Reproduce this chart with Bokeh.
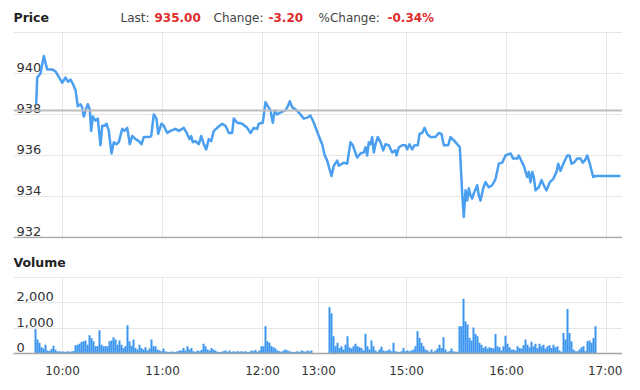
from bokeh.plotting import figure
from bokeh.layouts import column
from bokeh.models import Range1d, FixedTicker, Span
from bokeh.core.properties import value
from bokeh.embed import file_html
from bokeh.resources import INLINE

FONT = "DejaVu Sans"

# ---------------- data ----------------
# x axis: trading slots (one volume bar per slot), with the lunch break compressed
tick_slots = [13.5, 63.5, 113.5, 141.5, 185.5, 235.5, 285.5]
tick_labels = ["10:00", "11:00", "12:00", "13:00", "15:00", "16:00", "17:00"]
x_start, x_end = -11, 293.5

price_ticks = [932, 934, 936, 938, 940]
price_tick_labels = ["932", "934", "936", "938", "940"]
price_min, price_max = 932, 942
prev_close = 938.2

header_parts = ["Last:", "935.00", "Change:", "-3.20", "%Change:", "-0.34%"]

price_slot = [
    0.35, 0.85, 2.5, 4.15, 5.85, 8.35, 10, 13.35, 15, 16.35, 17.5, 18.65, 20, 21.15,
    22.5, 23.35, 24.15, 25, 26.15, 27.15, 27.85, 28.65, 30, 31.15, 32.5, 33.35, 34.5,
    35.5, 36.65, 38, 39.15, 40.5, 41.65, 43.35, 44.5, 45.85, 47.15, 48.35, 50, 51.65,
    53, 54.15, 56.65, 57.85, 59.15, 60.5, 61.35, 63, 64.15, 65.85, 67.5, 70, 71.65,
    74.15, 75.85, 77, 77.85, 78.65, 80, 81.65, 82.85, 84.15, 85.35, 86.65, 87.85,
    89.15, 90.85, 93.35, 95, 96.65, 98.35, 99.15, 100.85, 103.35, 105.85, 107.5,
    109.15, 110.85, 111.65, 113.65, 115, 116.15, 117.5, 118.65, 119.65, 120.85,
    122.5, 125, 126.15, 127.15, 128.35, 130, 132.5, 134.15, 135.85, 137.5, 139.15,
    141.65, 143.35, 144.65, 145.85, 148, 149.15, 150.85, 151.65, 154.15, 155.85,
    157.5, 158.65, 160.85, 162.5, 164.15, 165, 165.85, 166.65, 167.5, 168.35, 169.15,
    170, 171.15, 172.5, 173.85, 175, 176.65, 178.35, 180, 180.5, 181.65, 183.35, 185,
    185.85, 187, 188.35, 189.5, 191.15, 192, 193.35, 194.5, 195.85, 197.5, 200,
    201.65, 203, 204.15, 206.35, 207.5, 210, 212.15, 213.35, 214.15, 215, 215.85,
    216.65, 217.5, 218.35, 219.15, 220.85, 221.65, 222.5, 223.85, 225, 226.65,
    228.35, 230, 231.65, 233.35, 235, 237.5, 238.85, 240.85, 241.65, 243.35, 244.15,
    245.85, 246.65, 247.5, 248.35, 249.15, 250, 251.65, 253, 254.15, 255.5, 257.15,
    258.85, 260.5, 261.35, 262.5, 264.15, 265.85, 267, 268, 269.15, 270.85, 272.5,
    273.65, 274.65, 275.85, 277.15, 278.85, 280, 292.5,
]
price_value = [
    938.5, 939.8, 940.0, 940.85, 940.2, 940.2, 940.1, 939.55, 939.8, 939.6, 939.7,
    939.5, 939.2, 938.4, 938.5, 938.35, 937.9, 938.2, 938.5, 938.25, 937.2, 937.9,
    937.7, 937.8, 936.5, 937.45, 937.45, 937.55, 937.2, 936.1, 936.65, 936.55,
    936.65, 937.3, 937.2, 937.35, 936.55, 936.95, 936.8, 936.7, 936.55, 936.9,
    936.9, 936.95, 938.0, 937.8, 937.05, 937.55, 937.45, 937.1, 937.2, 937.3, 937.2,
    937.35, 937.05, 936.8, 936.95, 936.65, 936.7, 936.55, 936.95, 936.55, 936.3,
    936.8, 936.7, 937.2, 937.35, 937.55, 937.45, 937.1, 937.1, 937.8, 937.6, 937.55,
    937.35, 937.1, 937.35, 937.3, 937.55, 937.6, 938.6, 938.4, 938.2, 937.6, 938.2,
    938.0, 938.1, 938.2, 938.4, 938.65, 938.35, 938.25, 938.0, 937.8, 937.85,
    937.95, 937.6, 936.95, 936.55, 936.0, 935.75, 935.0, 935.5, 935.75, 935.5,
    935.65, 935.6, 936.65, 936.5, 935.9, 936.1, 936.15, 936.4, 936.0, 936.65,
    936.55, 936.9, 936.15, 936.55, 936.9, 936.65, 936.25, 936.55, 936.5, 936.15,
    936.25, 936.0, 936.4, 936.5, 936.5, 936.3, 936.55, 936.3, 936.5, 936.5, 937.05,
    937.1, 937.35, 937.05, 936.9, 936.9, 937.1, 937.05, 936.5, 936.5, 936.9, 936.65,
    936.4, 934.15, 933.0, 934.3, 933.8, 934.4, 934.05, 933.9, 934.15, 934.55, 934.05,
    933.8, 934.4, 934.7, 934.45, 934.55, 934.85, 935.6, 935.65, 936.0, 936.1,
    935.85, 935.85, 936.0, 935.65, 935.5, 934.95, 935.2, 934.7, 935.2, 934.95,
    934.3, 934.45, 934.8, 934.55, 934.3, 934.7, 934.85, 935.2, 935.6, 935.25,
    935.65, 936.0, 936.0, 935.6, 935.65, 935.85, 935.85, 935.65, 935.75, 936.0,
    935.6, 934.95, 935.0, 935.0,
]

vol_ticks = [0, 1000, 2000]
vol_tick_labels = ["0", "1,000", "2,000"]
vol_max = 3000

morning_start_slot = 0
morning_volume = [
    970, 550, 420, 250, 200, 350, 120, 100, 180, 310, 150, 80, 90, 70, 80, 60, 90, 70,
    80, 100, 330, 350, 380, 450, 480, 510, 350, 720, 610, 480, 290, 300, 915, 350,
    290, 300, 290, 480, 510, 640, 550, 350, 510, 350, 220, 300, 1110, 480, 310, 550,
    220, 160, 350, 220, 160, 250, 120, 200, 550, 290, 290, 160, 120, 90, 200, 80, 70,
    60, 80, 70, 60, 90, 120, 120, 220, 120, 290, 160, 220, 90, 70, 120, 90, 140, 380,
    290, 160, 120, 220, 160, 120, 70, 60, 70, 90, 120, 70, 120, 60, 90, 70, 90, 70,
    90, 70, 90, 60, 70, 120, 90, 140, 70, 120, 290, 290, 1070, 480, 420, 290, 250,
    200, 120, 90, 70, 120, 160, 120, 90, 70, 60, 70, 90, 60, 120, 90, 70, 120, 90, 120,
]
afternoon_start_slot = 147
afternoon_volume = [
    1820, 1590, 680, 290, 420, 220, 290, 160, 350, 680, 250, 200, 290, 380, 290, 250,
    220, 120, 780, 290, 160, 510, 290, 120, 70, 160, 270, 120, 90, 120, 160, 90, 420,
    90, 70, 60, 90, 220, 90, 120, 90, 120, 160, 290, 880, 610, 420, 290, 160, 120, 70,
    160, 70, 120, 200, 350, 220, 640, 160, 70, 90, 200, 90, 70, 70, 1070, 1070, 2160,
    1270, 1140, 610, 510, 1030, 770, 680, 420, 350, 220, 290, 200, 250, 220, 200, 770,
    290, 250, 120, 290, 700, 380, 250, 160, 160, 120, 290, 220, 200, 330, 550, 350,
    250, 460, 290, 380, 220, 380, 290, 350, 200, 290, 330, 220, 350, 250, 290, 120,
    70, 810, 550, 1760, 810, 480, 160, 90, 90, 160, 250, 290, 90, 480, 510, 420, 610,
    1070,
]

vol_slot = [morning_start_slot + i for i in range(len(morning_volume))] + \
           [afternoon_start_slot + i for i in range(len(afternoon_volume))]
vol_value = morning_volume + afternoon_volume

# ---------------- styles / layout ----------------
LINE_BLUE = "#4a9ff0"
BAR_BLUE = "#3c95ef"
GRID = "#e6e6e6"
AXIS = "#a6a6a6"
TXT = "#333333"
HEAD = "#444444"
RED = "#e02b2b"
FRAME_W = 609
PRICE_PX_PER_UNIT = 20.5
PRICE_HEADER_PX = 32
VOL_PX_PER_1000 = 25.4
VOL_HEADER_PX = 28
TICK_LABEL_LIFT = -6

x_range = Range1d(x_start, x_end)
overrides = {t: l for t, l in zip(tick_slots, tick_labels)}

# ---------------- price panel ----------------
p_lo = price_min - 1 / PRICE_PX_PER_UNIT
p_hi = price_max + PRICE_HEADER_PX / PRICE_PX_PER_UNIT
p1 = figure(frame_width=FRAME_W, frame_height=238, x_range=x_range,
            y_range=Range1d(p_lo, p_hi), output_backend="svg",
            toolbar_location=None, x_axis_location=None, y_axis_location=None,
            min_border_left=13, min_border_right=0, min_border_top=0, min_border_bottom=11)
p1.outline_line_color = None
p1.xgrid.visible = False
p1.ygrid.ticker = FixedTicker(ticks=price_ticks[1:] + [price_max])
p1.ygrid.grid_line_color = GRID

n = len(tick_slots)
p1.segment(x0=tick_slots, y0=[price_min] * n, x1=tick_slots, y1=[price_max] * n,
           line_color=GRID, line_width=1)
p1.add_layout(Span(location=prev_close, dimension="width", line_color="#bdbdbd", line_width=2))
p1.add_layout(Span(location=price_min, dimension="width", line_color=AXIS, line_width=1.5))

p1.text(x=[x_start] * len(price_ticks), y=price_ticks, text=price_tick_labels,
        x_offset=3, y_offset=TICK_LABEL_LIFT, text_baseline="middle", text_align="left",
        text_font=value(FONT), text_font_size="13px", text_color=TXT)

p1.line(x=price_slot, y=price_value, line_color=LINE_BLUE, line_width=2.5,
        line_join="round")

# header line
p1.text(x=[x_start], y=[price_max], text=["Price"], x_offset=0, y_offset=-15,
        text_baseline="middle", text_font=value(FONT), text_font_size="12.5px",
        text_font_style="bold", text_color="#222222")
head_offsets = [107, 141, 200, 255, 305, 374]
head_colors = [HEAD, RED, HEAD, RED, HEAD, RED]
head_styles = ["normal", "bold", "normal", "bold", "normal", "bold"]
for txt, off, col, sty in zip(header_parts, head_offsets, head_colors, head_styles):
    p1.text(x=[x_start], y=[price_max], text=[txt], x_offset=off, y_offset=-15,
            text_baseline="middle", text_font=value(FONT), text_font_size="12px",
            text_font_style=sty, text_color=col)

# ---------------- volume panel ----------------
v_hi = vol_max + VOL_HEADER_PX / VOL_PX_PER_1000 * 1000
p2 = figure(frame_width=FRAME_W, frame_height=104, x_range=x_range,
            y_range=Range1d(0, v_hi), output_backend="svg",
            toolbar_location=None, y_axis_location=None,
            min_border_left=13, min_border_right=0, min_border_top=0, min_border_bottom=5)
p2.outline_line_color = None
p2.xaxis.ticker = FixedTicker(ticks=tick_slots)
p2.xaxis.major_label_overrides = overrides
p2.xaxis.major_tick_line_color = None
p2.xaxis.minor_tick_line_color = None
p2.xaxis.major_tick_out = 0
p2.xaxis.major_label_standoff = 10
p2.xaxis.axis_line_color = AXIS
p2.xaxis.axis_line_width = 1.5
p2.xaxis.major_label_text_font = FONT
p2.xaxis.major_label_text_font_size = "12px"
p2.xaxis.major_label_text_color = TXT
p2.xgrid.visible = False
p2.ygrid.ticker = FixedTicker(ticks=vol_ticks[1:] + [vol_max])
p2.ygrid.grid_line_color = GRID

p2.segment(x0=tick_slots, y0=[0] * n, x1=tick_slots, y1=[vol_max] * n,
           line_color=GRID, line_width=1)

p2.vbar(x=vol_slot, top=vol_value, width=1.0, fill_color=BAR_BLUE, line_color=None)

p2.text(x=[x_start] * len(vol_ticks), y=vol_ticks, text=vol_tick_labels,
        x_offset=3, y_offset=TICK_LABEL_LIFT, text_baseline="middle", text_align="left",
        text_font=value(FONT), text_font_size="13px", text_color=TXT)

p2.text(x=[x_start], y=[vol_max], text=["Volume"], x_offset=0, y_offset=-15,
        text_baseline="middle", text_font=value(FONT), text_font_size="12.5px",
        text_font_style="bold", text_color="#222222")

layout = column(p1, p2, spacing=0)
open("out.html", "w").write(file_html(layout, INLINE))
